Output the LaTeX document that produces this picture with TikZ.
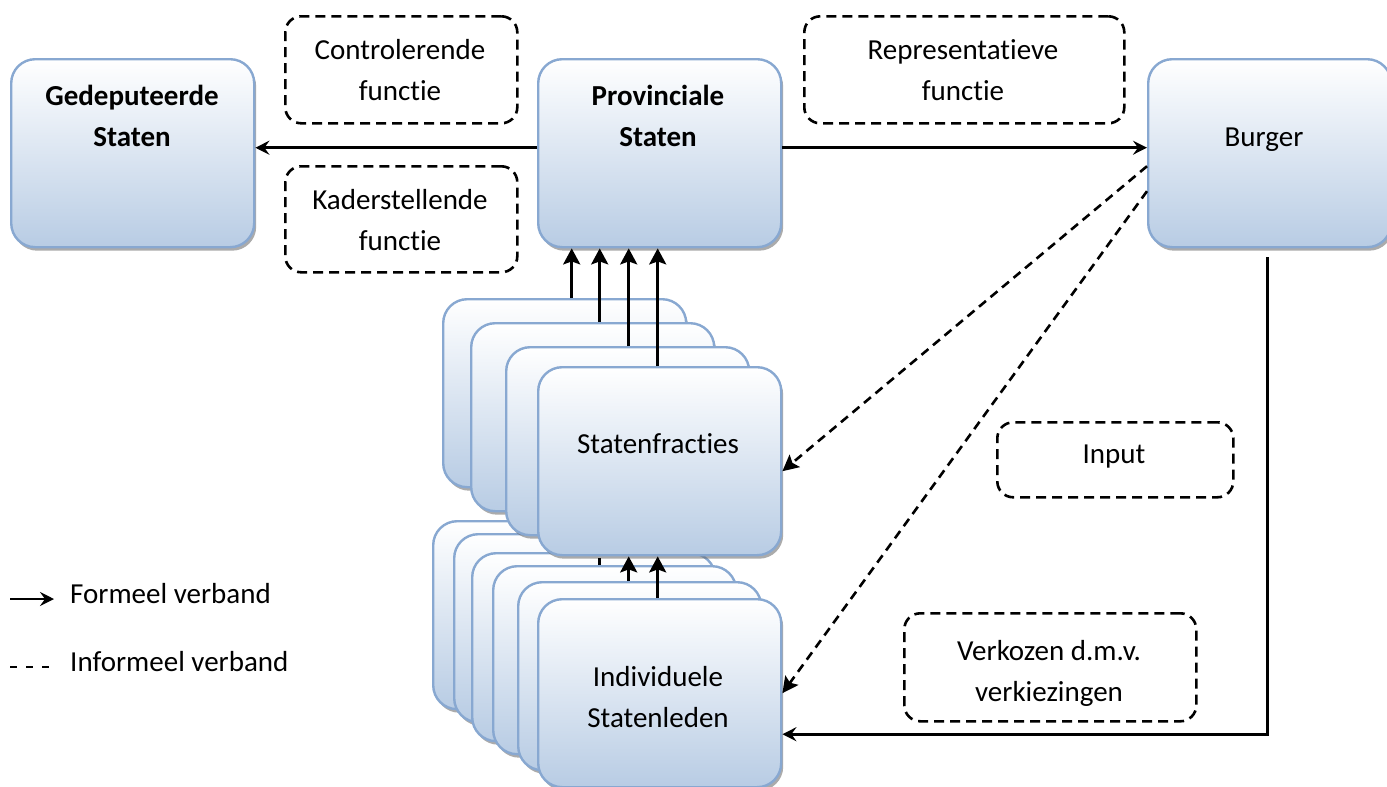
\documentclass[tikz,border=0pt]{standalone}
\usepackage{fontspec}
\setmainfont{Carlito}[Ligatures=NoCommon]
\usetikzlibrary{arrows.meta,shadows}
\definecolor{boxedge}{RGB}{136,168,209}
\definecolor{boxfill}{RGB}{184,204,228}
\begin{document}
\begin{tikzpicture}[x=1pt,y=-1pt,
  blok/.style={draw=boxedge, line width=2.4pt, rounded corners=24pt,
    top color=white, bottom color=boxfill,
    minimum width=243pt, minimum height=188pt, inner sep=0pt, anchor=north west,
    drop shadow={shadow xshift=2pt, shadow yshift=-3.5pt, fill=black!60, opacity=0.55}},
  kader/.style={draw=black, line width=2.6pt, dash pattern=on 10pt off 6pt,
    rounded corners=16pt, inner sep=0pt, anchor=north west},
  txt/.style={font=\fontsize{29}{41}\selectfont, align=center, anchor=base, inner sep=0pt},
  formal/.style={line width=2.8pt, -{Stealth[length=16pt,width=17pt,inset=3pt]}},
  formalh/.style={line width=2.8pt, -{Stealth[length=14pt,width=14pt,inset=5pt]}},
  informal/.style={line width=2.6pt, dash pattern=on 9pt off 6pt,
    -{Stealth[length=16pt,width=16pt,inset=3pt]}}
]
\useasboundingbox (0,0) rectangle (1387,787);

% top row (multi-line texts are placed by the baseline of their last line)
\node[blok] (gs) at (10,58) {};
\node[blok] (ps) at (537,58) {};
\node[blok] (burger) at (1147,58) {};
\node[txt] (gstxt) at (132,146) {\bfseries Gedeputeerde\\\bfseries Staten};
\node[txt] (pstxt) at (658,146) {\bfseries Provinciale\\\bfseries Staten};
\node[txt] (burgertxt) at (1264,146) {Burger};

% dashed function labels
\node[kader, minimum width=232pt, minimum height=107pt] (ctrl) at (284,15) {};
\node[txt] (ctrltxt) at (400,100) {Controlerende\\functie};
\node[kader, minimum width=232pt, minimum height=106pt] (kader) at (284,165) {};
\node[txt] (kadertxt) at (400,250) {Kaderstellende\\functie};
\node[kader, minimum width=320pt, minimum height=107pt] (repr) at (803,15) {};
\node[txt] (reprtxt) at (963,100) {Representatieve\\functie};
\node[kader, minimum width=236pt, minimum height=75pt] (input) at (996,421) {};
\node[txt] (inputtxt) at (1114,463) {Input};
\node[kader, minimum width=292pt, minimum height=108pt] (verk) at (903,612) {};
\node[txt] (verktxt) at (1049,701) {Verkozen d.m.v.\\verkiezingen};

% stack of individual members
\node[blok] (ida) at (432,520) {};
\node[blok] (idb) at (453,533) {};
\node[blok] (idc) at (471,552) {};
\node[blok] (idd) at (492,565) {};
\node[blok] (ide) at (517,581) {};
\node[blok] (idf) at (537,598) {};
\node[txt] (idtxt) at (658,727) {Individuele\\Statenleden};

% stack of party groups
\node[blok] (sfa) at (442,298) {};
\node[blok] (sfb) at (470,322) {};
\node[blok] (sfc) at (505,346) {};
\node[blok] (sfd) at (537,366) {};
\node[txt] (sftxt) at (658,453) {Statenfracties};

% formal relations
\draw[formalh] ([yshift=5.5pt]ps.west) -- ([yshift=5.5pt]gs.east);
\draw[formalh] ([yshift=5.5pt]ps.east) -- ([yshift=5.5pt]burger.west);
\draw[formal] ([xshift=7pt]sfa.north) -- ([xshift=7pt]sfa.north |- ps.south);
\draw[formal] ([xshift=7pt]sfb.north) -- ([xshift=7pt]sfb.north |- ps.south);
\draw[formal] ([xshift=1pt]sfc.north) -- ([xshift=1pt]sfc.north |- ps.south);
\draw[formal] ([xshift=-2pt]sfd.north) -- ([xshift=-2pt]sfd.north |- ps.south);
\draw[line width=2.8pt, shorten >=2pt] ([xshift=-15pt]idd.north) -- ([xshift=-15pt]idd.north |- sfd.south);
\draw[formal] ([xshift=-11pt]ide.north) -- ([xshift=-11pt]ide.north |- sfd.south);
\draw[formal] ([xshift=-2pt]idf.north) -- ([xshift=-2pt]idf.north |- sfd.south);
\draw[formalh] ([xshift=-2pt,yshift=-9pt]burger.south) |- ([yshift=-41pt]idf.east);

% informal relations
\draw[informal] ([yshift=-13pt]burger.west) -- ([yshift=-10pt]sfd.east);
\draw[informal] ([yshift=-38pt]burger.west) -- (idf.east);

% legend
\coordinate (lfa) at (10,599);
\coordinate (lfb) at (54,599);
\coordinate (lia) at (10,667);
\coordinate (lib) at (53,667);
\draw[formalh] (lfa) -- (lfb);
\draw[line width=2.6pt, dash pattern=on 7pt off 9pt] (lia) -- (lib);
\node[txt, anchor=base west] (lftxt) at (70,603) {Formeel verband};
\node[txt, anchor=base west] (litxt) at (70,671) {Informeel verband};
\end{tikzpicture}
\end{document}
